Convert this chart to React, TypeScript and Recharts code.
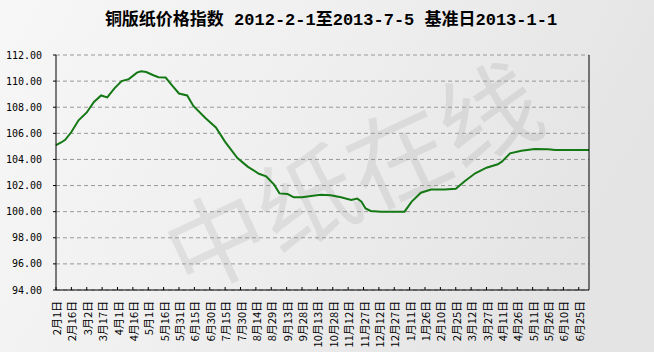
import React from 'react';
import { LineChart, Line, XAxis, YAxis, CartesianGrid } from 'recharts';

const TITLE = '铜版纸价格指数 2012-2-1至2013-7-5 基准日2013-1-1';
const WATERMARK = '中纸在线';

// days since 2012-02-01
const dayOffsets = [
  0, 5, 9, 15, 22, 30, 37, 44, 50, 57, 64, 71, 79, 83, 88, 95, 100, 107, 113, 120,
  128, 134, 146, 156, 165, 177, 187, 198, 205, 213, 218, 226, 232, 240, 249, 258, 268, 278, 288, 294,
  298, 302, 307, 317, 340, 347, 356, 366, 379, 390, 399, 409, 420, 431, 435, 443, 454, 467, 480, 487, 520,
];
const indexValues = [
  105.1, 105.3, 105.5, 106.1, 107.0, 107.6, 108.4, 108.9, 108.75, 109.45, 110.0, 110.15, 110.65, 110.75, 110.7, 110.45, 110.3, 110.27, 109.7, 109.05,
  108.9, 108.1, 107.15, 106.45, 105.35, 104.1, 103.45, 102.9, 102.7, 102.05, 101.4, 101.35, 101.1, 101.1, 101.2, 101.3, 101.25, 101.1, 100.9, 101.0,
  100.77, 100.25, 100.05, 100.0, 100.0, 100.77, 101.45, 101.7, 101.7, 101.76, 102.35, 102.94, 103.37, 103.63, 103.83, 104.47, 104.67, 104.8, 104.78, 104.72, 104.72,
];

const xTickDays = [
  0, 15, 30, 45, 60, 75, 90, 105, 120, 135, 150, 165, 180, 195, 210, 225, 240, 255,
  270, 285, 300, 315, 330, 345, 360, 375, 390, 405, 420, 435, 450, 465, 480, 495, 510,
];
const xTickLabels = [
  '2月1日', '2月16日', '3月2日', '3月17日', '4月1日', '4月16日', '5月1日', '5月16日', '5月31日',
  '6月15日', '6月30日', '7月15日', '7月30日', '8月14日', '8月29日', '9月13日', '9月28日', '10月13日',
  '10月28日', '11月12日', '11月27日', '12月12日', '12月27日', '1月11日', '1月26日', '2月10日', '2月25日',
  '3月12日', '3月27日', '4月11日', '4月26日', '5月11日', '5月26日', '6月10日', '6月25日',
];
const leftTicks = [94, 96, 98, 100, 102, 104, 106, 108, 110, 112];
const rightTicks = [-6, -4, -2, 0, 2, 4, 6, 8, 10, 12];

const data = dayOffsets.map((d, i) => ({ day: d, value: indexValues[i] }));

const XTick = (props: any) => {
  const { x, y, payload } = props;
  const idx = xTickDays.indexOf(payload.value);
  const label = idx >= 0 ? xTickLabels[idx] : '';
  return (
    <g>
      <line x1={x} y1={y} x2={x} y2={y - 3} stroke="#000" strokeWidth={1} />
      <text
        transform={`translate(${x},${y + 11}) rotate(-90)`}
        textAnchor="end"
        dominantBaseline="central"
        fontSize={11}
        fontFamily="'Noto Sans CJK SC'"
        fill="#000"
      >
        {label}
      </text>
    </g>
  );
};

export default function App() {
  return (
    <div style={{ position: 'absolute', left: 0, top: 0, width: 654, height: 352, overflow: 'hidden' }}>
      <svg width={654} height={352} style={{ position: 'absolute', left: 0, top: 0 }}>
        <defs>
          <linearGradient id="bg" x1="0" y1="0" x2="1" y2="0.3">
            <stop offset="0" stopColor="#f7f7f7" />
            <stop offset="0.5" stopColor="#efefef" />
            <stop offset="1" stopColor="#e4e4e4" />
          </linearGradient>
        </defs>
        <rect x={0} y={0} width={654} height={352} fill="url(#bg)" />
        <text
          transform="translate(350,172) rotate(-25)"
          textAnchor="middle"
          dominantBaseline="central"
          fontSize={100}
          fontFamily="'Noto Sans CJK SC'"
          fill="#000"
          fillOpacity={0.07}
        >
          {WATERMARK}
        </text>
        <text
          x={331}
          y={20}
          textAnchor="middle"
          dominantBaseline="central"
          fontSize={17}
          fontWeight="bold"
          fontFamily="'Liberation Mono', 'Noto Sans CJK SC'"
          fill="#000"
        >
          {TITLE}
        </text>
      </svg>
      <div style={{ position: 'absolute', left: 0, top: 0 }}>
        <LineChart width={654} height={352} data={data} margin={{ top: 55, right: 0, bottom: 0, left: 0 }}>
          <CartesianGrid vertical={false} stroke="#999" strokeDasharray="4 3" yAxisId="left" />
          <XAxis
            dataKey="day"
            type="number"
            domain={[0, 520]}
            ticks={xTickDays}
            interval={0}
            height={62}
            axisLine={{ stroke: '#000' }}
            tickLine={false}
            tickSize={0}
            tickMargin={0}
            tick={<XTick />}
          />
          <YAxis
            yAxisId="left"
            orientation="left"
            domain={[94, 112]}
            ticks={leftTicks}
            interval={0}
            width={56}
            axisLine={{ stroke: '#000' }}
            tickLine={{ stroke: '#000' }}
            tickSize={3}
            tickMargin={11}
            tickFormatter={(v: number) => v.toFixed(2)}
            tick={{ fontSize: 10, fontFamily: "'DejaVu Sans Mono'", fill: '#000' }}
          />
          <YAxis
            yAxisId="right"
            orientation="right"
            domain={[-6, 12]}
            ticks={rightTicks}
            interval={0}
            width={65}
            axisLine={{ stroke: '#000' }}
            tickLine={{ stroke: '#000' }}
            tickSize={4}
            tickMargin={3}
            tickFormatter={(v: number) => v.toFixed(2) + '%'}
            tick={{ fontSize: 10, fontFamily: "'DejaVu Sans Mono'", fill: '#000' }}
          />
          <Line
            yAxisId="left"
            type="linear"
            dataKey="value"
            stroke="#147814"
            strokeWidth={2}
            dot={false}
            isAnimationActive={false}
          />
        </LineChart>
      </div>
    </div>
  );
}
